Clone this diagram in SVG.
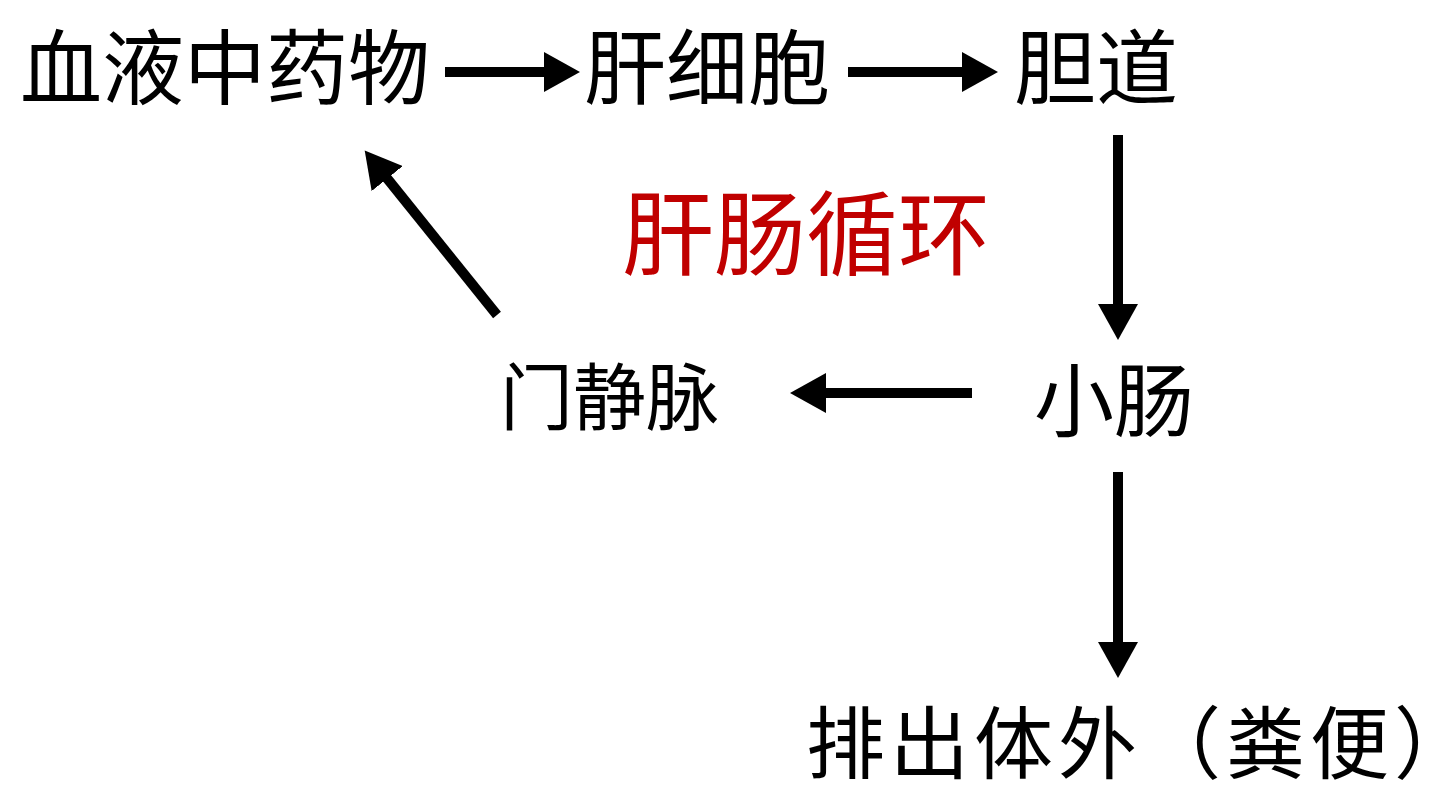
<svg xmlns="http://www.w3.org/2000/svg" width="1440" height="802" viewBox="0 0 1440 802">
<style>
text{font-family:"Noto Sans CJK SC","Noto Sans",sans-serif;fill:#000}
.c line{stroke:#000;stroke-width:10;marker-end:url(#ah)}
</style>
<defs><marker id="ah" markerUnits="userSpaceOnUse" markerWidth="40" markerHeight="40" refX="2" refY="20" orient="auto"><path d="M0,0 L36,20 L0,40 Z" fill="#000"/></marker></defs>
<rect width="1440" height="802" fill="#fff"/>
<g id="n1"><text x="20" y="98" font-size="82">血液中药物</text></g>
<g id="n2"><text x="584" y="98" font-size="82">肝细胞</text></g>
<g id="n3"><text x="1014" y="98" font-size="82">胆道</text></g>
<g id="n4"><text x="1034" y="430" font-size="80">小肠</text></g>
<g id="n5"><text x="500" y="424" font-size="73">门静脉</text></g>
<g id="n6"><text x="806" y="773" font-size="79" letter-spacing="5">排出体外（粪便）</text></g>
<g id="lbl"><text x="622" y="268" font-size="92" style="fill:#C00000">肝肠循环</text></g>
<g class="c">
<line x1="445" y1="72" x2="546" y2="72"/>
<line x1="848" y1="72" x2="964" y2="72"/>
<line x1="1118" y1="135" x2="1118" y2="306"/>
<line x1="972" y1="393" x2="824" y2="393"/>
<line x1="1118" y1="472" x2="1118" y2="644"/>
<line x1="497" y1="315" x2="386" y2="177"/>
</g>
</svg>
